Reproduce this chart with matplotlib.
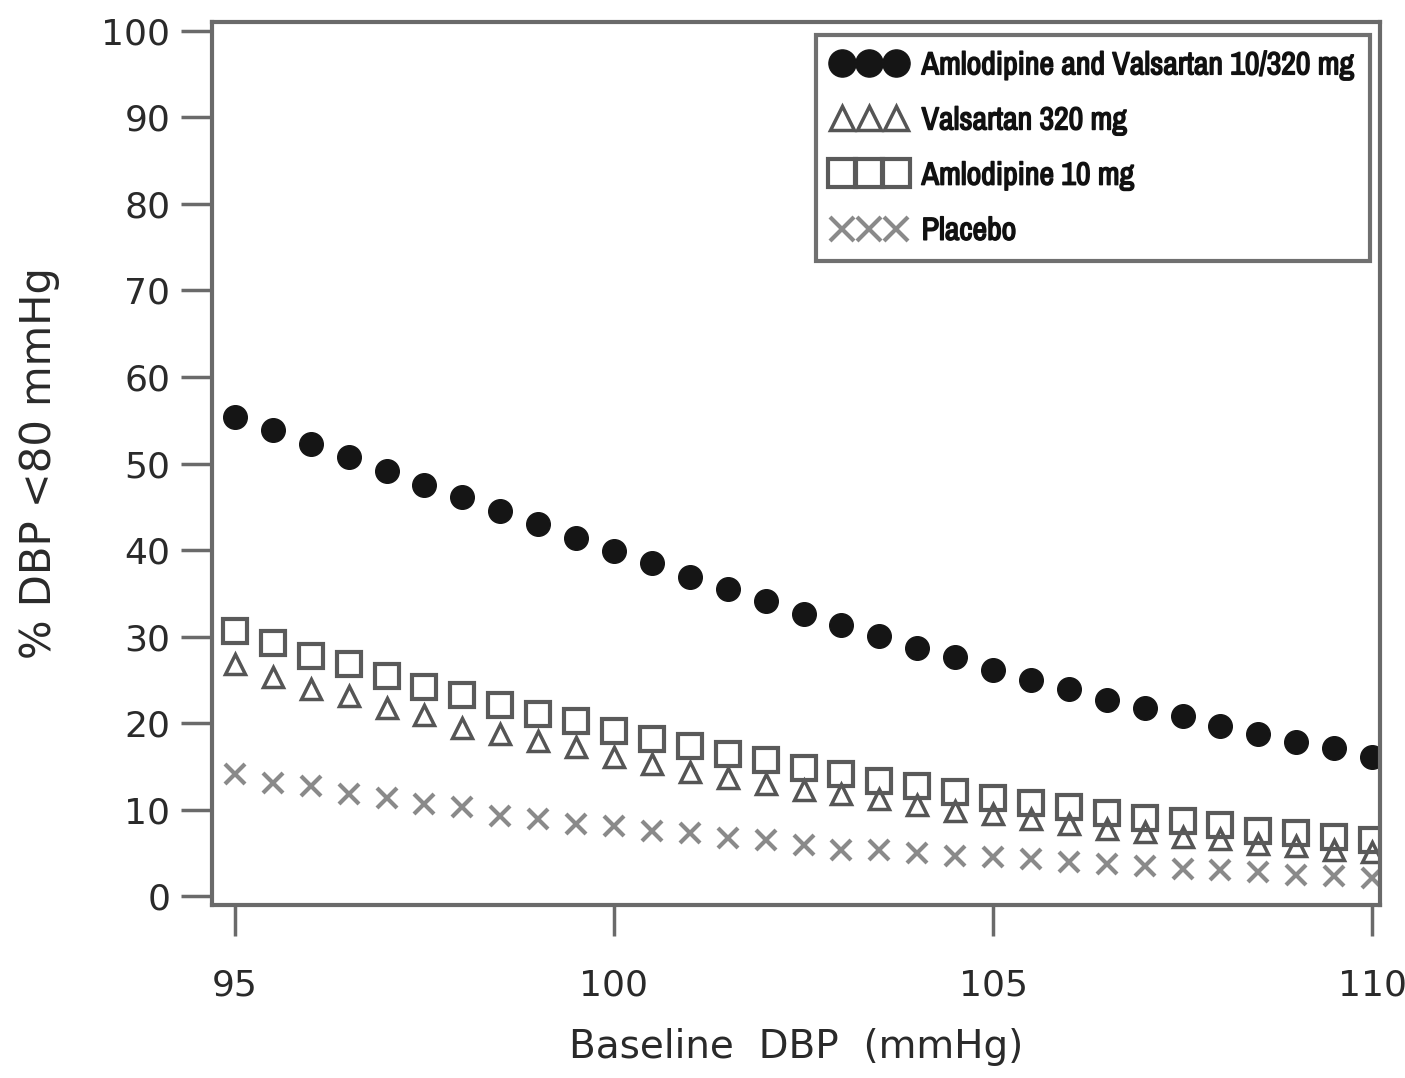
import numpy as np
import matplotlib
matplotlib.use("Agg")
import matplotlib.pyplot as plt
import matplotlib.patheffects as pe
from matplotlib import font_manager

# baseline DBP grid (mmHg)
dbp = np.arange(95, 110.01, 0.5)

combo = [55.4, 53.9, 52.2, 50.7, 49.1, 47.5, 46.1, 44.5, 43.0, 41.4, 39.9,
         38.5, 36.9, 35.5, 34.1, 32.6, 31.3, 30.1, 28.7, 27.6, 26.2, 25.0,
         23.9, 22.7, 21.7, 20.8, 19.7, 18.8, 17.8, 17.1, 16.1]
valsartan = [26.8, 25.3, 23.9, 23.1, 21.8, 20.9, 19.5, 18.7, 18.0, 17.2, 16.1,
             15.3, 14.4, 13.7, 13.0, 12.3, 11.8, 11.2, 10.5, 9.9, 9.5, 8.9,
             8.3, 7.8, 7.4, 6.9, 6.6, 6.1, 5.8, 5.4, 5.1]
amlodipine = [30.6, 29.3, 27.8, 26.8, 25.4, 24.2, 23.3, 22.1, 21.1, 20.3, 19.1,
              18.2, 17.4, 16.5, 15.7, 14.8, 14.1, 13.3, 12.7, 12.0, 11.4, 10.8,
              10.3, 9.6, 9.1, 8.7, 8.2, 7.6, 7.3, 6.8, 6.5]
placebo = [14.1, 13.1, 12.7, 11.8, 11.4, 10.7, 10.3, 9.3, 8.9, 8.4, 8.1,
           7.6, 7.3, 6.7, 6.5, 5.9, 5.4, 5.3, 5.0, 4.7, 4.6, 4.3, 4.0, 3.7,
           3.5, 3.2, 3.0, 2.8, 2.5, 2.3, 2.1]

labels = ["Amlodipine and Valsartan 10/320 mg", "Valsartan 320 mg",
          "Amlodipine 10 mg", "Placebo"]

names = {f.name for f in font_manager.fontManager.ttflist}
if "Archivo Narrow" in names:
    leg_font = {'family': 'Archivo Narrow', 'weight': 'bold', 'size': 23}
else:
    leg_font = {'family': 'DejaVu Sans', 'stretch': 'condensed', 'weight': 'bold', 'size': 20}

fig = plt.figure(figsize=(14.05, 10.78), dpi=100)
ax = fig.add_axes([0.151, 0.1605, 0.831, 0.819])

ax.plot(dbp, combo, 'o', ms=17, color='#151515', mec='#151515', label=labels[0])
ax.plot(dbp, valsartan, '^', ms=15, mfc='none', mec='#555555', mew=2.5, label=labels[1])
ax.plot(dbp, amlodipine, 's', ms=17, mfc='none', mec='#5a5a5a', mew=3, label=labels[2])
ax.plot(dbp, placebo, 'x', ms=15, color='#8a8a8a', mew=3, label=labels[3])

ax.set_xlim(94.7, 110.1)
ax.set_ylim(-1, 101)
ax.set_xticks([95, 100, 105, 110])
ax.set_yticks(np.arange(0, 101, 10))

for s in ax.spines.values():
    s.set_color('#6a6a6a')
    s.set_linewidth(3)
ax.tick_params(axis='both', length=22, width=2.5, color='#6a6a6a',
               labelsize=26, labelcolor='#2a2a2a')
ax.tick_params(axis='x', pad=24)
ax.tick_params(axis='y', pad=8)

ax.set_xlabel('Baseline  DBP  (mmHg)', fontsize=28, color='#2a2a2a', labelpad=18)
ax.set_ylabel('% DBP <80 mmHg', fontsize=30, color='#2a2a2a', labelpad=30)

leg = ax.legend(loc='upper right', bbox_to_anchor=(0.9914, 0.985), numpoints=3,
                prop=leg_font, frameon=True, fancybox=False, handlelength=2.3,
                handletextpad=0.5, labelspacing=0.85, borderpad=0.5,
                borderaxespad=0, markerscale=1.15)
leg.get_frame().set_edgecolor('#707070')
leg.get_frame().set_linewidth(3)
leg.get_frame().set_alpha(1)
for t in leg.get_texts():
    t.set_color('#111111')
    t.set_path_effects([pe.withStroke(linewidth=1.1, foreground='#111111')])

fig.savefig('out.png', dpi=100)
